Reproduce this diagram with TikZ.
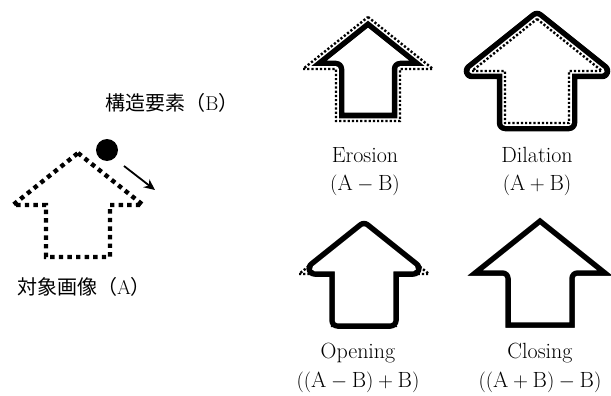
\documentclass[tikz,border=0pt]{standalone}
\usepackage{fontspec}
\newfontfamily\cjk{Noto Sans CJK JP}
\usetikzlibrary{arrows.meta}
% arrow-shaped polygon: centre x, apex y, offset (positive = outward, mitred)
\newcommand{\ArrShape}[3]{({#1},{#2-1.2806*(#3)}) -- ({#1+65+2.851*(#3)},{#2+52+(#3)}) -- ({#1+32+(#3)},{#2+52+(#3)}) -- ({#1+32+(#3)},{#2+104+(#3)}) -- ({#1-32-(#3)},{#2+104+(#3)}) -- ({#1-32-(#3)},{#2+52+(#3)}) -- ({#1-65-2.851*(#3)},{#2+52+(#3)}) -- cycle}
\tikzset{
  lbl/.style={font=\fontsize{22}{25}\selectfont, inner sep=0pt},
  jlbl/.style={font=\fontsize{20}{24}\selectfont, inner sep=0pt},
  bigdots/.style={line width=4.4pt, dash pattern=on 4.4pt off 4.2pt},
  finedots/.style={line width=2.4pt, dash pattern=on 2.2pt off 2pt},
  bandout/.style={line width=16.5pt, line join=round, black},
  bandin/.style={line width=5.5pt, line join=round, white},
}
\begin{document}
\begin{tikzpicture}[x=1pt,y=-1pt]
\useasboundingbox (0,0) rectangle (611,396);
% ---------- object image A ----------
\draw[bigdots] \ArrShape{78}{153}{0};
\node[circle, fill, inner sep=0pt, minimum size=22pt] (ball) at (107,150) {};
\coordinate (m1) at (124,166);
\coordinate (m2) at (155,190);
\draw[-{Stealth[length=11pt,width=10pt]}, line width=1.8pt] (m1) -- (m2);
\node[jlbl] (lblB) at (172,103) {{\cjk 構造要素（}B{\cjk ）}};
\node[jlbl] (lblA) at (84,287) {{\cjk 対象画像（}A{\cjk ）}};
% ---------- Erosion ----------
\begin{scope}
  \clip \ArrShape{368}{17}{0};
  \draw[bandout] \ArrShape{368}{17}{0};
\end{scope}
\draw[bandin] \ArrShape{368}{17}{0};
\draw[finedots] \ArrShape{368}{17}{0};
\node[lbl] (ero) at (365,155) {Erosion};
\node[lbl] (eroF) at (365,185) {$(\mathrm{A}-\mathrm{B})$};
% ---------- Dilation ----------
\filldraw[bandout] \ArrShape{537}{19}{0};
\filldraw[bandin] \ArrShape{537}{19}{0};
\draw[finedots] \ArrShape{537}{19}{0};
\node[lbl] (dil) at (537,155) {Dilation};
\node[lbl] (dilF) at (537,185) {$(\mathrm{A}+\mathrm{B})$};
% ---------- Opening ----------
\filldraw[bandout] \ArrShape{364}{222}{-5.5};
\filldraw[bandin] \ArrShape{364}{222}{-5.5};
\draw[finedots] \ArrShape{364}{222}{0};
\node[lbl] (ope) at (358,353) {Opening};
\node[lbl] (opeF) at (358,382) {$((\mathrm{A}-\mathrm{B})+\mathrm{B})$};
% ---------- Closing ----------
\begin{scope}
  \clip \ArrShape{540}{221}{5.5};
  \draw[bandout] \ArrShape{540}{221}{5.5};
\end{scope}
\draw[bandin] \ArrShape{540}{221}{5.5};
\draw[finedots] \ArrShape{540}{221}{0};
\node[lbl] (clo) at (540,353) {Closing};
\node[lbl] (cloF) at (540,382) {$((\mathrm{A}+\mathrm{B})-\mathrm{B})$};
\end{tikzpicture}
\end{document}
